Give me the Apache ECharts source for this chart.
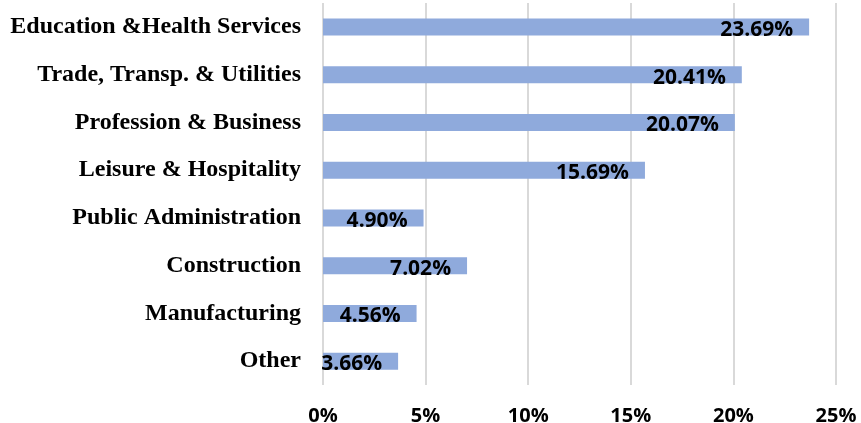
<!DOCTYPE html>
<html><head><meta charset="utf-8">
<script src="https://cdn.jsdelivr.net/npm/echarts@6/dist/echarts.min.js"></script>
<style>html,body{margin:0;padding:0;background:#fff}#c{width:861px;height:423px}</style>
</head><body><div id="c"></div>
<script>
const categories = ["Education &Health Services","Trade, Transp. & Utilities","Profession & Business","Leisure & Hospitality","Public Administration","Construction","Manufacturing","Other"];
const values = [23.69, 20.41, 20.07, 15.69, 4.90, 7.02, 4.56, 3.66];
const tickStep = 5;
const axisMax = 25;

const chart = echarts.init(document.getElementById('c'));
chart.setOption({
  animation: false,
  grid: {left: 323, right: 25, top: 3, height: 382, containLabel: false, outerBoundsMode: 'none'},
  xAxis: {
    type: 'value', min: 0, max: axisMax, interval: tickStep,
    axisLine: {show: false}, axisTick: {show: false},
    splitLine: {lineStyle: {color: '#d9d9d9', width: 2}},
    axisLabel: {formatter: v => v + '%', fontFamily: 'Open Sans', fontWeight: 'bold', fontSize: 20, color: '#000', margin: 21}
  },
  yAxis: {
    type: 'category', data: categories, inverse: true,
    axisLine: {show: false}, axisTick: {show: false},
    axisLabel: {fontFamily: 'Liberation Serif', fontWeight: 'bold', fontSize: 24, color: '#000', margin: 22, padding: [3, 0, 0, 0]}
  },
  series: [{
    type: 'bar', data: values, barWidth: 17,
    itemStyle: {color: '#8faadc'},
    label: {show: true, position: 'insideRight', distance: 16, offset: [0, 3],
      formatter: p => p.value.toFixed(2) + '%',
      fontFamily: 'Open Sans', fontWeight: 'bold', fontSize: 21, color: '#000'}
  }]
});
</script></body></html>
